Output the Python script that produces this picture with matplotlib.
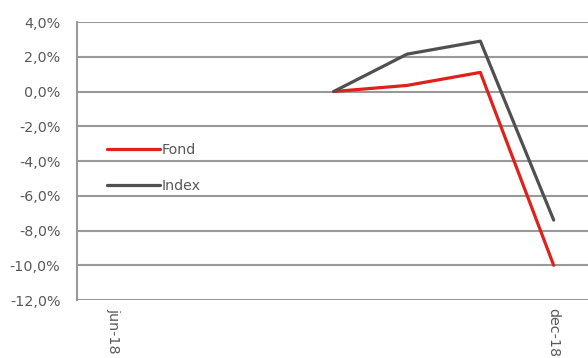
import numpy as np
import matplotlib
matplotlib.use('Agg')
import matplotlib.pyplot as plt

months = ['jun-18', 'jul-18', 'aug-18', 'sep-18', 'okt-18', 'nov-18', 'dec-18']
fond = [np.nan, np.nan, np.nan, 0.0, 0.35, 1.1, -10.0]
index = [np.nan, np.nan, np.nan, 0.0, 2.15, 2.9, -7.4]
yticks = [4, 2, 0, -2, -4, -6, -8, -10, -12]

plt.rcParams['font.family'] = ['DejaVu Sans']
grid_col = '#999999'
text_col = '#595959'

fig = plt.figure(figsize=(5.88, 3.58), dpi=100)
ax = fig.add_axes([0.131, 0.162, 0.873, 0.7765])

x = np.arange(len(months))
ax.plot(x, fond, color='#E0201B', linewidth=2.3, label='Fond', solid_capstyle='round')
ax.plot(x, index, color='#505050', linewidth=2.3, label='Index', solid_capstyle='round')

ax.set_xlim(-0.5, len(months) - 0.5)
ax.set_ylim(-12, 4)
ax.set_yticks(yticks)
ax.set_yticklabels(['{:.1f}%'.format(v).replace('.', ',') for v in yticks],
                   fontsize=10.3, color=text_col)
ax.yaxis.grid(True, color=grid_col, linewidth=1.5)
ax.set_axisbelow(True)

ax.set_xticks([0, 6])
ax.set_xticklabels([months[0], months[6]], rotation=270, fontsize=10.3,
                   color=text_col, va='top', ha='center')
ax.tick_params(axis='y', left=False, length=0, pad=12)
ax.tick_params(axis='x', bottom=False, length=0, pad=6)

for s in ['top', 'right', 'bottom']:
    ax.spines[s].set_visible(False)
ax.spines['left'].set_color(grid_col)
ax.spines['left'].set_linewidth(1.5)

leg = ax.legend(loc='upper left', bbox_to_anchor=(0.047, 0.585), frameon=False,
                fontsize=10.3, handlelength=3.7, handletextpad=0.15,
                labelspacing=1.55, borderaxespad=0)
for t in leg.get_texts():
    t.set_color(text_col)

fig.savefig('out.png', dpi=100)
